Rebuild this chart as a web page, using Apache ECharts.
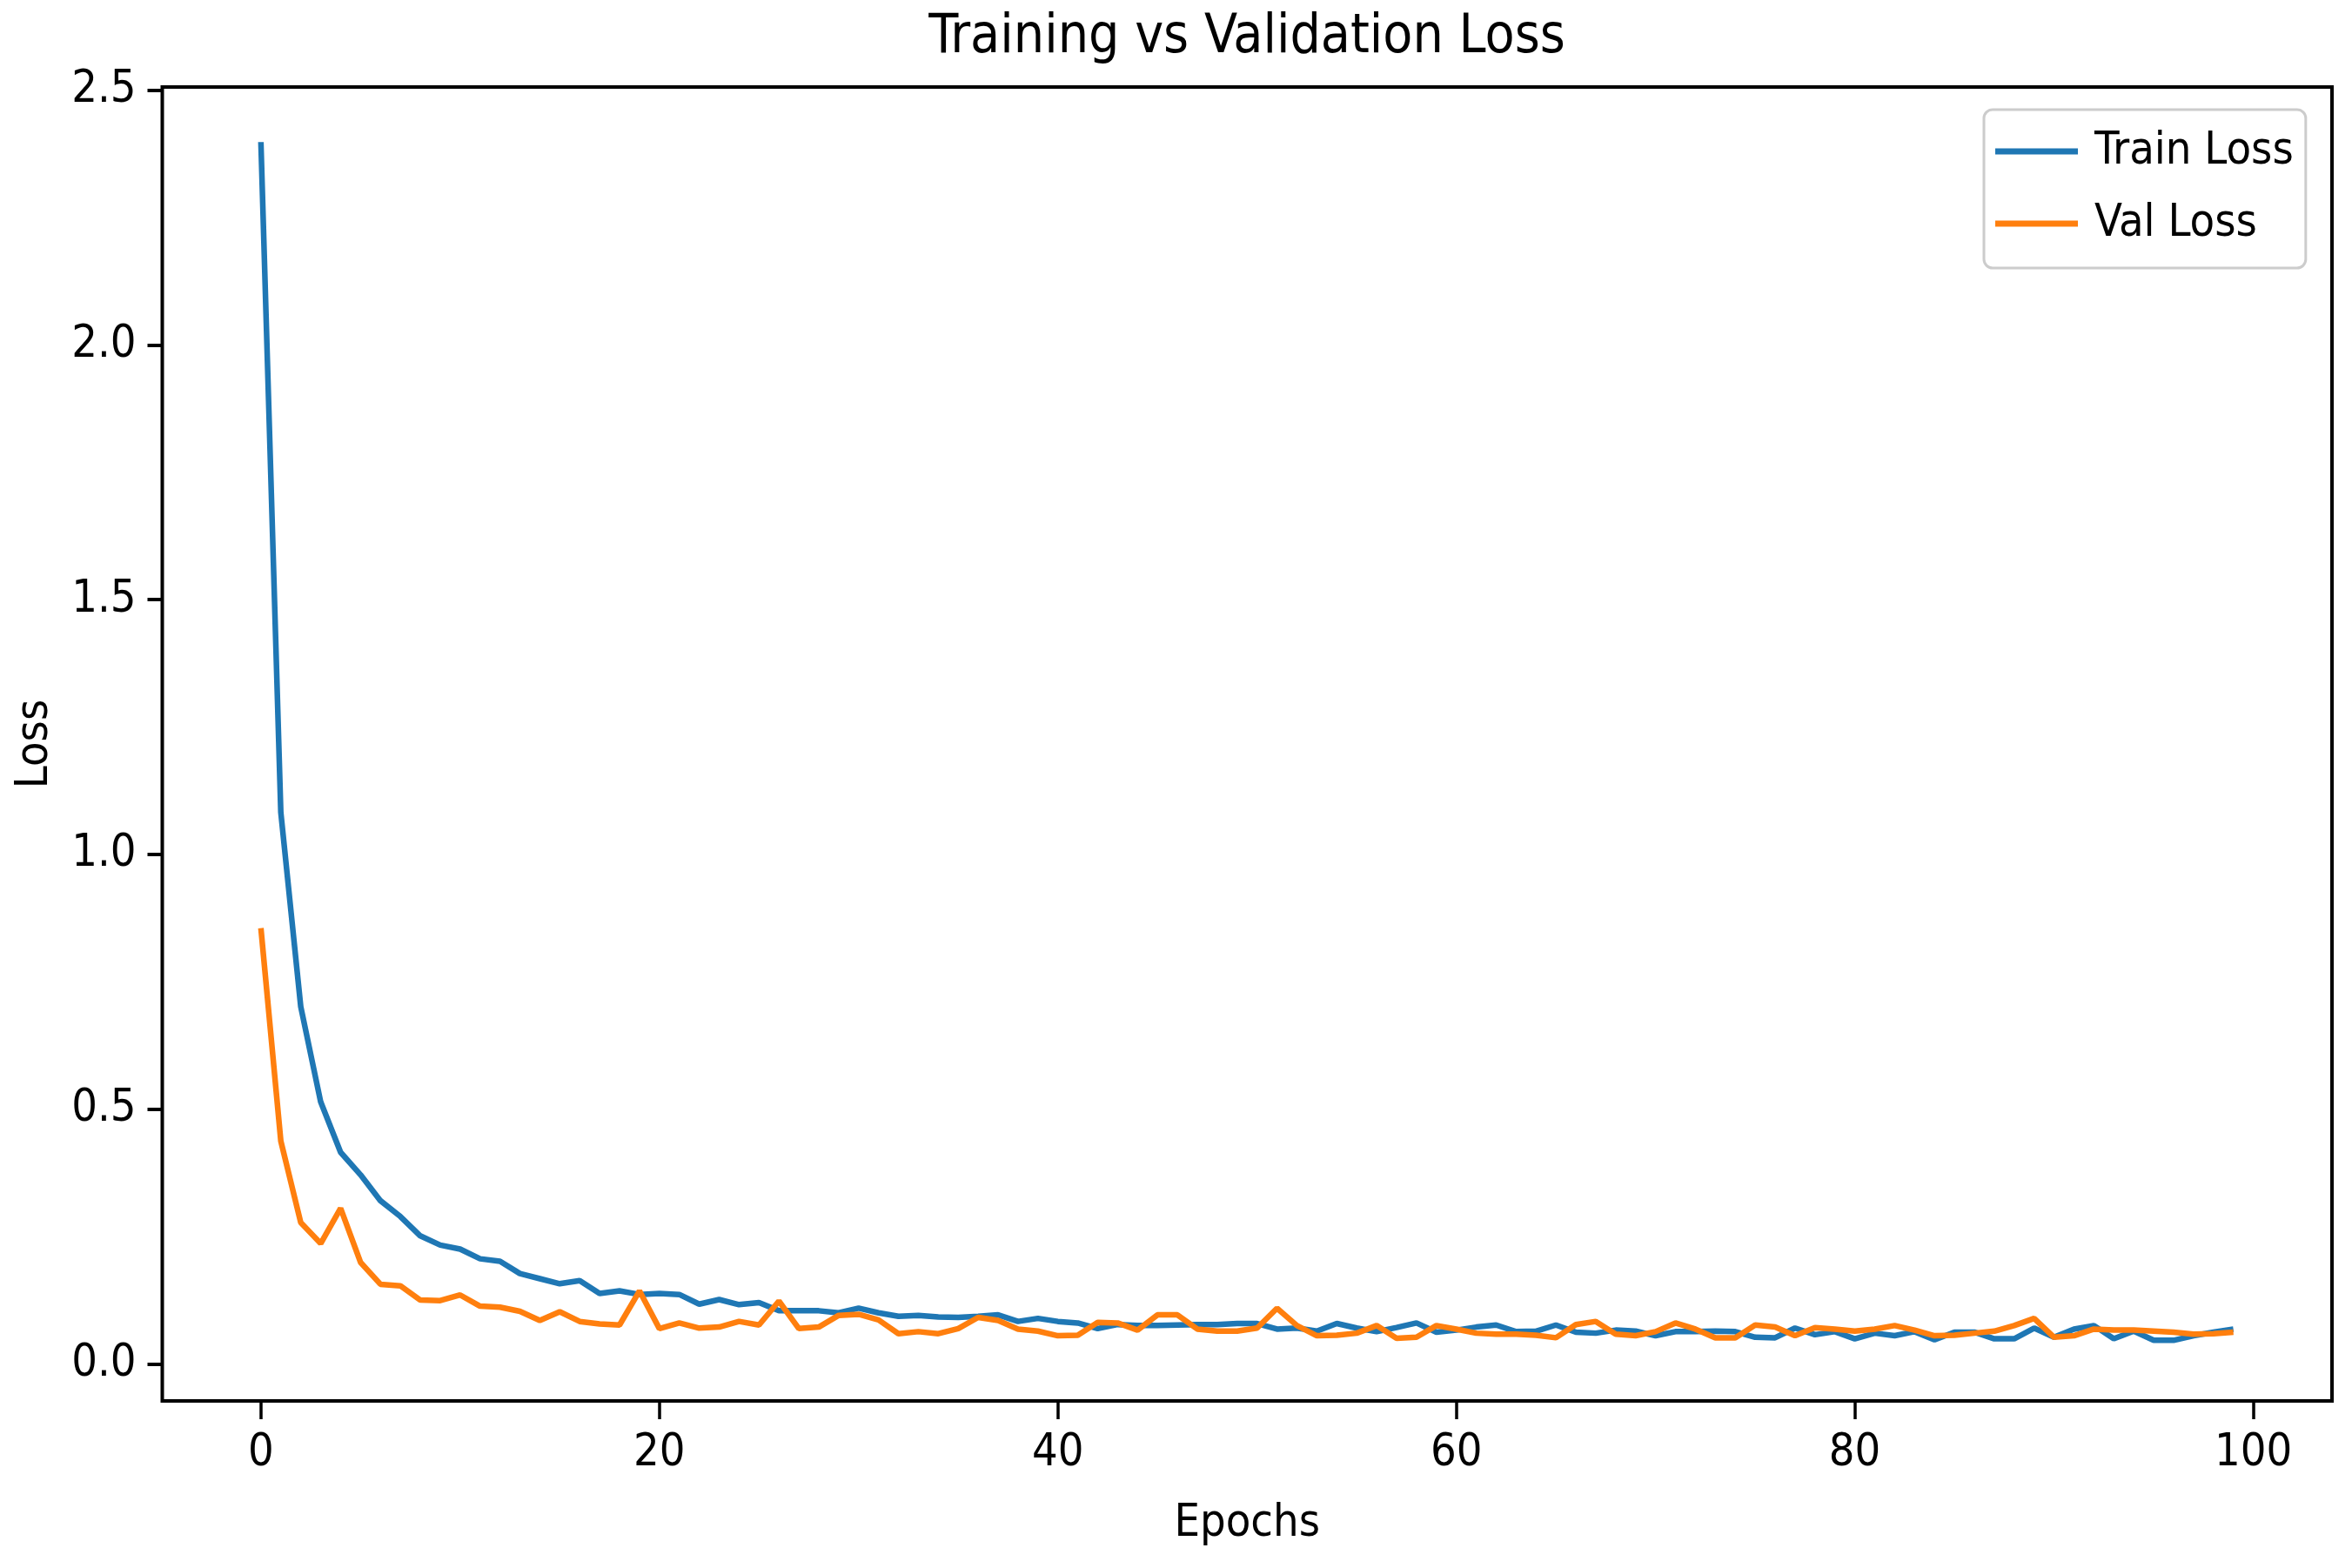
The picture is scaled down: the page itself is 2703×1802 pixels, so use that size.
<!DOCTYPE html>
<html>
<head>
<meta charset="utf-8">
<title>Training vs Validation Loss</title>
<script src="https://cdn.jsdelivr.net/npm/echarts@6.0.0/dist/echarts.min.js"></script>
<style>
  html, body { margin: 0; padding: 0; background: #ffffff; }
  #chart { width: 2703px; height: 1802px; }
</style>
</head>
<body>
<div id="chart"></div>
<script>
const epochs = [];
for (let i = 0; i < 100; i++) epochs.push(i);

const trainLoss = [
  2.398, 1.082, 0.701, 0.514, 0.415, 0.371, 0.320, 0.289, 0.251, 0.233,
  0.225, 0.206, 0.201, 0.177, 0.167, 0.157, 0.163, 0.138, 0.143, 0.136,
  0.138, 0.136, 0.117, 0.126, 0.116, 0.120, 0.104, 0.104, 0.104, 0.100,
  0.109, 0.100, 0.093, 0.095, 0.092, 0.091, 0.093, 0.096, 0.083, 0.089,
  0.083, 0.080, 0.069, 0.077, 0.075, 0.075, 0.076, 0.077, 0.077, 0.079,
  0.079, 0.068, 0.070, 0.064, 0.079, 0.070, 0.063, 0.071, 0.080, 0.062,
  0.066, 0.072, 0.076, 0.063, 0.064, 0.076, 0.062, 0.060, 0.066, 0.064,
  0.055, 0.063, 0.063, 0.064, 0.063, 0.052, 0.051, 0.070, 0.057, 0.063,
  0.049, 0.060, 0.055, 0.063, 0.047, 0.062, 0.062, 0.049, 0.049, 0.070,
  0.052, 0.068, 0.075, 0.049, 0.064, 0.046, 0.046, 0.055, 0.062, 0.068
];

const valLoss = [
  0.855, 0.437, 0.277, 0.236, 0.305, 0.199, 0.156, 0.153, 0.125, 0.124,
  0.135, 0.113, 0.111, 0.103, 0.085, 0.102, 0.083, 0.078, 0.076, 0.143,
  0.069, 0.080, 0.070, 0.072, 0.083, 0.076, 0.123, 0.069, 0.072, 0.095,
  0.097, 0.086, 0.059, 0.063, 0.059, 0.069, 0.091, 0.085, 0.068, 0.064,
  0.055, 0.056, 0.081, 0.080, 0.066, 0.096, 0.096, 0.068, 0.064, 0.064,
  0.070, 0.109, 0.075, 0.055, 0.056, 0.060, 0.075, 0.050, 0.052, 0.075,
  0.068, 0.060, 0.058, 0.058, 0.056, 0.051, 0.077, 0.083, 0.058, 0.055,
  0.063, 0.080, 0.068, 0.051, 0.051, 0.076, 0.072, 0.055, 0.071, 0.068,
  0.064, 0.068, 0.075, 0.066, 0.055, 0.056, 0.060, 0.064, 0.075, 0.089,
  0.052, 0.055, 0.068, 0.066, 0.066, 0.064, 0.062, 0.058, 0.059, 0.062
];

const xTicks = [0, 20, 40, 60, 80, 100];
const yTicks = [0, 0.5, 1.0, 1.5, 2.0, 2.5];

const FONT = "'DejaVu Sans Condensed', 'DejaVu Sans', sans-serif";

const chart = echarts.init(document.getElementById("chart"), null, {
  renderer: "canvas",
  width: 2703,
  height: 1802
});

chart.setOption({
  animation: false,
  backgroundColor: "#ffffff",
  title: {
    text: "Training vs Validation Loss",
    left: 1433,
    top: 13,
    padding: 0,
    textAlign: "center",
    textStyle: {
      fontFamily: FONT,
      fontSize: 62,
      fontWeight: "normal",
      color: "#000000"
    }
  },
  legend: {
    orient: "vertical",
    left: 2280,
    top: 126,
    padding: [22, 14, 25, 13],
    itemGap: 31,
    itemWidth: 95,
    itemHeight: 7,
    icon: "rect",
    backgroundColor: "rgba(255,255,255,0.8)",
    borderColor: "#cccccc",
    borderWidth: 3,
    borderRadius: 10,
    textStyle: {
      fontFamily: FONT,
      fontSize: 52,
      color: "#000000",
      padding: [0, 0, 0, 14]
    },
    data: ["Train Loss", "Val Loss"]
  },
  grid: {
    left: 186.5,
    right: 23,
    top: 100,
    bottom: 192,
    show: true,
    borderColor: "#000000",
    borderWidth: 4,
    containLabel: false,
    outerBoundsMode: "none"
  },
  xAxis: {
    type: "value",
    min: -4.95,
    max: 103.95,
    name: "Epochs",
    nameLocation: "middle",
    nameGap: 115,
    nameTextStyle: { fontFamily: FONT, fontSize: 52, color: "#000000" },
    axisLine: { show: false, onZero: false },
    splitLine: { show: false },
    axisTick: {
      show: true,
      length: 21,
      customValues: xTicks,
      lineStyle: { color: "#000000", width: 3.5 }
    },
    axisLabel: {
      customValues: xTicks,
      margin: 34,
      fontFamily: FONT,
      fontSize: 52,
      color: "#000000"
    }
  },
  yAxis: {
    type: "value",
    min: -0.073,
    max: 2.506,
    name: "Loss",
    nameLocation: "middle",
    nameGap: 120,
    nameTextStyle: { fontFamily: FONT, fontSize: 52, color: "#000000" },
    axisLine: { show: false, onZero: false },
    splitLine: { show: false },
    axisTick: {
      show: true,
      length: 17,
      customValues: yTicks,
      lineStyle: { color: "#000000", width: 4 }
    },
    axisLabel: {
      customValues: yTicks,
      margin: 30,
      fontFamily: FONT,
      fontSize: 52,
      color: "#000000",
      formatter: function (v) { return v.toFixed(1); }
    }
  },
  series: [
    {
      name: "Train Loss",
      type: "line",
      showSymbol: false,
      symbol: "none",
      color: "#1f77b4",
      lineStyle: { color: "#1f77b4", width: 6.5 },
      data: epochs.map(function (e, i) { return [e, trainLoss[i]]; })
    },
    {
      name: "Val Loss",
      type: "line",
      showSymbol: false,
      symbol: "none",
      color: "#ff7f0e",
      lineStyle: { color: "#ff7f0e", width: 6.5 },
      data: epochs.map(function (e, i) { return [e, valLoss[i]]; })
    }
  ]
});
</script>
</body>
</html>
